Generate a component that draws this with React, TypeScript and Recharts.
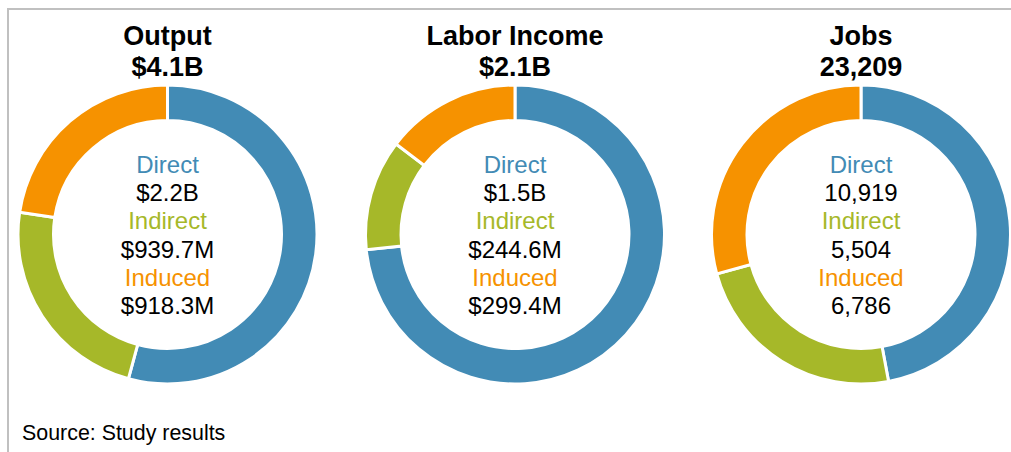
import { PieChart, Pie, Cell } from 'recharts';

// page has no reset, drop the body margin so coordinates match the window
document.body.style.margin = '0';

const categories = ['Direct', 'Indirect', 'Induced'];
const colors = ['#428BB5', '#A6B829', '#F69200'];

const outputValues = [2200, 939.7, 918.3];
const outputLabels = ['$2.2B', '$939.7M', '$918.3M'];

const laborValues = [1500, 244.6, 299.4];
const laborLabels = ['$1.5B', '$244.6M', '$299.4M'];

const jobValues = [10919, 5504, 6786];
const jobLabels = ['10,919', '5,504', '6,786'];

const panels = [
  { title: 'Output', total: '$4.1B', values: outputValues, labels: outputLabels, cx: 167.5 },
  { title: 'Labor Income', total: '$2.1B', values: laborValues, labels: laborLabels, cx: 515 },
  { title: 'Jobs', total: '23,209', values: jobValues, labels: jobLabels, cx: 861 },
];

const FONT = '"Liberation Sans", Arial, sans-serif';
const CY = 234.5;

export default function App() {
  return (
    <div style={{ position: 'relative', width: 1011, height: 452, overflow: 'hidden', background: '#fff', fontFamily: FONT }}>
      {/* frame: only top and left edges are in view */}
      <div
        style={{
          position: 'absolute',
          left: 7,
          top: 8,
          width: 1100,
          height: 600,
          borderTop: '2px solid #C0C0C0',
          borderLeft: '2px solid #C0C0C0',
        }}
      />
      <div style={{ position: 'absolute', left: 0, top: 0 }}>
        <PieChart width={1011} height={452} margin={{ top: 0, right: 0, bottom: 0, left: 0 }}>
          {panels.map((p) => (
            <Pie
              key={p.title}
              data={categories.map((c, i) => ({ name: c, value: p.values[i] }))}
              dataKey="value"
              nameKey="name"
              cx={p.cx}
              cy={CY}
              innerRadius={114}
              outerRadius={149.5}
              startAngle={90}
              endAngle={-270}
              stroke="#fff"
              strokeWidth={3}
              isAnimationActive={false}
            >
              {categories.map((c, i) => (
                <Cell key={c} fill={colors[i]} />
              ))}
            </Pie>
          ))}
        </PieChart>
      </div>
      {panels.map((p) => (
        <div key={p.title}>
          <div
            style={{
              position: 'absolute',
              left: p.cx - 150,
              width: 300,
              top: 20.5,
              textAlign: 'center',
              fontWeight: 'bold',
              fontSize: 27,
              lineHeight: '31px',
              color: '#000',
            }}
          >
            <div>{p.title}</div>
            <div>{p.total}</div>
          </div>
          <div
            style={{
              position: 'absolute',
              left: p.cx - 110,
              width: 220,
              top: 151,
              textAlign: 'center',
              fontSize: 24,
              lineHeight: '28.2px',
            }}
          >
            {categories.map((c, i) => (
              <div key={c}>
                <div style={{ color: colors[i] }}>{c}</div>
                <div style={{ color: '#000' }}>{p.labels[i]}</div>
              </div>
            ))}
          </div>
        </div>
      ))}
      <div style={{ position: 'absolute', left: 22, top: 421, fontSize: 21.4, lineHeight: '24px', color: '#000' }}>
        Source: Study results
      </div>
    </div>
  );
}
